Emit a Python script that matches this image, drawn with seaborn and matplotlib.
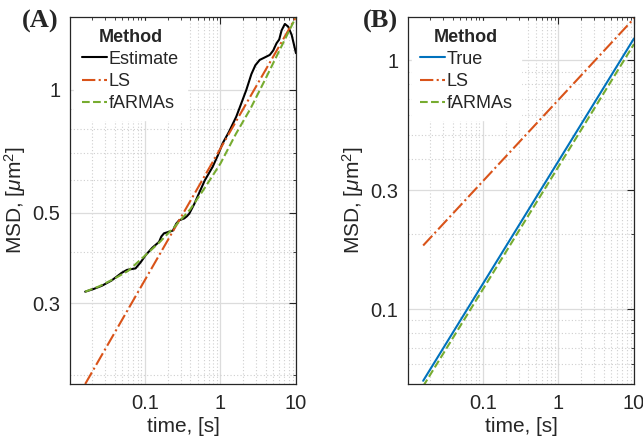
import numpy as np
import pandas as pd
import seaborn as sns
import matplotlib
matplotlib.use("Agg")
import matplotlib.pyplot as plt
from matplotlib.ticker import LogLocator, FixedLocator, FixedFormatter, NullFormatter

# panel A - estimate
est_t = [0.0162, 0.021, 0.027, 0.0363, 0.0493, 0.058, 0.0751, 0.088, 0.102, 0.125,
         0.154, 0.165, 0.179, 0.209, 0.235, 0.26, 0.284, 0.331, 0.36,
         0.386, 0.45, 0.525, 0.62, 0.789, 0.92, 1.07, 1.3, 1.62, 1.9, 2.20,
         2.57, 2.9, 3.31, 3.8, 4.50, 5.0, 5.53, 6.0, 6.45, 7.13, 7.89, 8.77, 10.0]
est_msd = [0.320, 0.325, 0.331, 0.341, 0.356, 0.362, 0.365, 0.378, 0.393, 0.410,
           0.424, 0.437, 0.445, 0.449, 0.452, 0.470, 0.479, 0.484, 0.490,
           0.497, 0.525, 0.560, 0.600, 0.648, 0.690, 0.740, 0.79, 0.860, 0.93, 1.00,
           1.094, 1.150, 1.185, 1.200, 1.219, 1.250, 1.302, 1.33, 1.40, 1.452, 1.43, 1.365, 1.231]

ls_a_t = [0.0162, 10.0]
ls_a_msd = [0.19, 1.51]

farma_a_t = [0.0162, 0.025, 0.04, 0.06, 0.1, 0.16, 0.25, 0.4, 0.6, 1.0,
             1.6, 2.5, 4.0, 6.3, 10.0]
farma_a_msd = [0.320, 0.330, 0.345, 0.360, 0.392, 0.425, 0.463, 0.51, 0.57, 0.66,
               0.78, 0.90, 1.07, 1.27, 1.51]

# panel B
true_t = [0.0162, 10.0]
true_msd = [0.0515, 1.222]
ls_b_t = [0.0162, 10.0]
ls_b_msd = [0.18, 1.47]
farma_b_t = [0.0162, 10.0]
farma_b_msd = [0.049, 1.16]

BLUE = "#0072BD"
ORANGE = "#D95319"
GREEN = "#77AC30"

sns.set_theme(style="white")
plt.rcParams["font.family"] = ["Liberation Sans", "DejaVu Sans"]
plt.rcParams["mathtext.fontset"] = "custom"
plt.rcParams["mathtext.rm"] = "Liberation Sans"
plt.rcParams["mathtext.it"] = "Liberation Sans:italic"

fig = plt.figure(figsize=(6.43, 4.43), dpi=100)
ax_a = fig.add_axes([0.1089, 0.1332, 0.3514, 0.8284])
ax_b = fig.add_axes([0.6345, 0.1332, 0.3515, 0.8284])


def style_axes(ax, ylim, yticks):
    ax.set_xscale("log")
    ax.set_yscale("log")
    ax.set_xlim(0.0102, 10)
    ax.set_ylim(*ylim)
    ax.xaxis.set_major_locator(FixedLocator([0.1, 1, 10]))
    ax.xaxis.set_major_formatter(FixedFormatter(["0.1", "1", "10"]))
    ax.xaxis.set_minor_locator(LogLocator(base=10, subs=np.arange(2, 10), numticks=20))
    ax.xaxis.set_minor_formatter(NullFormatter())
    ax.yaxis.set_major_locator(FixedLocator(yticks))
    ax.yaxis.set_major_formatter(FixedFormatter([f"{v:g}" for v in yticks]))
    ax.yaxis.set_minor_locator(LogLocator(base=10, subs=np.arange(1, 10), numticks=20))
    ax.yaxis.set_minor_formatter(NullFormatter())
    ax.grid(True, which="major", color="#dcdcdc", lw=0.9, ls="-")
    ax.grid(True, which="minor", color="#cfcfcf", lw=0.8, ls=(0, (1, 2)))
    ax.set_axisbelow(True)
    ax.tick_params(which="both", direction="in", top=True, right=True,
                   colors="#262626", labelsize=14.5)
    ax.tick_params(which="major", length=5, width=0.8, pad=7)
    ax.tick_params(which="minor", length=2.5, width=0.6)
    for s in ax.spines.values():
        s.set_color("#262626")
        s.set_linewidth(0.9)
    ax.set_xlabel("time, [s]", fontsize=15, color="#262626", labelpad=3)
    ax.set_ylabel(r"MSD, [$\mathit{\mu}$m$^2$]", fontsize=15, color="#262626", labelpad=3)


# panel A
sns.lineplot(x=est_t, y=est_msd, ax=ax_a, color="black", lw=1.5, label="Estimate")
sns.lineplot(x=ls_a_t, y=ls_a_msd, ax=ax_a, color=ORANGE, lw=1.5, ls="-.", label="LS")
sns.lineplot(x=farma_a_t, y=farma_a_msd, ax=ax_a, color=GREEN, lw=1.5, ls="--", label="fARMAs")
style_axes(ax_a, (0.19, 1.51), [0.3, 0.5, 1])

# panel B
sns.lineplot(x=true_t, y=true_msd, ax=ax_b, color=BLUE, lw=1.5, label="True")
sns.lineplot(x=ls_b_t, y=ls_b_msd, ax=ax_b, color=ORANGE, lw=1.5, ls="-.", label="LS")
sns.lineplot(x=farma_b_t, y=farma_b_msd, ax=ax_b, color=GREEN, lw=1.5, ls="--", label="fARMAs")
style_axes(ax_b, (0.05, 1.49), [0.1, 0.3, 1])

for ax in (ax_a, ax_b):
    leg = ax.legend(title="Method", loc="upper left", frameon=True, fontsize=13,
                    title_fontsize=13, handlelength=1.4, handletextpad=0.1,
                    labelspacing=0.28, borderpad=0.45, borderaxespad=0.2)
    leg.get_title().set_fontweight("bold")
    leg.get_frame().set_edgecolor("white")
    leg.get_frame().set_facecolor("white")
    leg.get_frame().set_alpha(1)

fig.text(0.034, 0.952, "(A)", fontsize=19, fontweight="bold", family="Liberation Serif",
         va="center", ha="left")
fig.text(0.564, 0.952, "(B)", fontsize=19, fontweight="bold", family="Liberation Serif",
         va="center", ha="left")

fig.savefig("out.png", dpi=100)
